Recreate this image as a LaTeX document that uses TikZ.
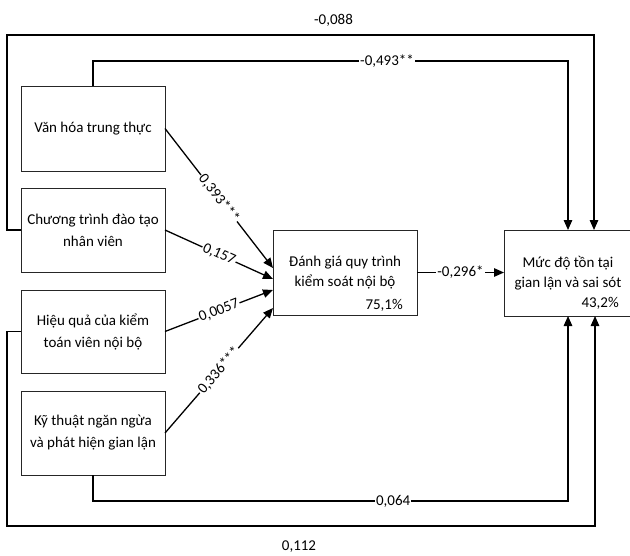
\documentclass[tikz,border=0pt]{standalone}
\usepackage{fontspec}
\setmainfont{Carlito}
\usetikzlibrary{arrows.meta,calc}
\begin{document}
\begin{tikzpicture}[x=1pt,y=-1pt,
  box/.style={draw=black!85, line width=0.8pt, inner sep=0pt, outer sep=0pt, align=center,
    minimum width=144pt, minimum height=85pt, font=\fontsize{15}{22}\selectfont},
  link/.style={line width=1.3pt},
  arr/.style={link, -{Triangle[length=10pt,width=8.5pt]}},
  lab/.style={fill=white, inner sep=1pt, font=\fontsize{15}{18}\selectfont},
  txt/.style={inner sep=0pt, font=\fontsize{15}{18}\selectfont},
]
\useasboundingbox (0,0) rectangle (630,555);
% boxes
\node[box] (b1) at (93,128.5) {Văn hóa trung thực};
\node[box, minimum height=84pt] (b2) at (93,230) {Chương trình đào tạo\\nhân viên};
\node[box, minimum height=83pt] (b3) at (93,331.5) {Hiệu quả của kiểm\\toán viên nội bộ};
\node[box, minimum height=84pt] (b4) at (93,433) {Kỹ thuật ngăn ngừa\\và phát hiện gian lận};
\node[box, font=\fontsize{15}{20.5}\selectfont] (c) at (345,272.5) {Đánh giá quy trình\\kiểm soát nội bộ};
\node[box, minimum width=128pt, minimum height=86pt, font=\fontsize{15}{20.5}\selectfont] (r) at (568,273) {Mức độ tồn tại\\gian lận và sai sót};
\node[txt, anchor=east] (pc) at (403,305) {75,1\%};
\node[txt, anchor=east] (pr) at (619,303) {43,2\%};
% paths into central box
\draw[arr] (b1.east) -- node[lab, sloped] {0,393***} ([yshift=4.5pt]c.west);
\draw[arr] (b2.east) -- node[lab, sloped] {0,157} ([yshift=-6.5pt]c.west);
\draw[arr] (b3.east) -- node[lab, sloped] {0,0057} ([yshift=-17.5pt]c.west);
\draw[arr] (b4.east) -- node[lab, sloped] {0,336***} ([yshift=-35.5pt]c.west);
\draw[arr] (c.east) -- node[lab] {-0,296*} (c.east -| r.west);
% direct paths to outcome
\coordinate (k1) at (7,35);
\draw[arr] (b2.west) -| (k1) -| ([xshift=26pt]r.north);
\node[txt] (l088) at (333.5,20) {-0,088};
\coordinate (k2) at (93,61);
\coordinate (k3) at (568,61);
\draw[arr] (b1.north) -- (k2) -- node[lab, pos=0.619] {-0,493**} (k3) -- (r.north);
\coordinate (k4) at (93,501);
\coordinate (k5) at (568,501);
\draw[arr] (b4.south) -- (k4) -- node[lab, pos=0.632] {0,064} (k5) -- (r.south);
\coordinate (k6) at (7,526);
\draw[arr] (b3.west) -| (k6) -| ([xshift=27pt]r.south);
\node[txt] (l112) at (299,547) {0,112};
\end{tikzpicture}
\end{document}
